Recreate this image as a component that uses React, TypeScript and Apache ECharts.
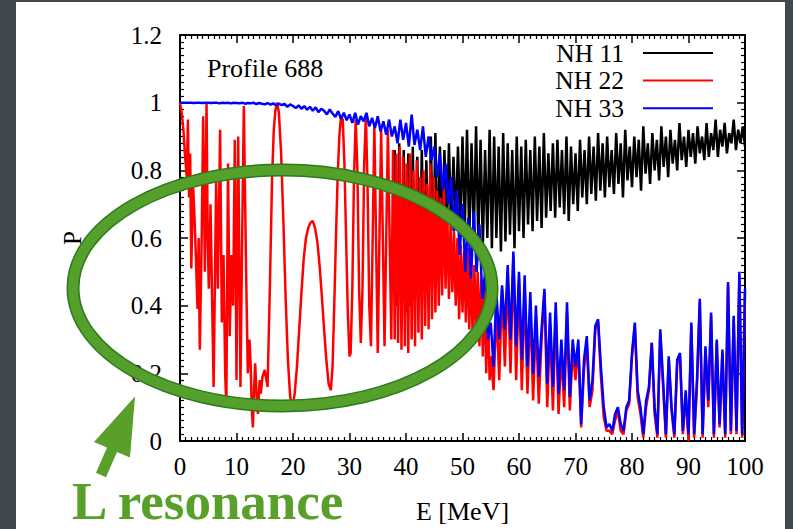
import React, { useEffect, useRef } from 'react';
import * as echarts from 'echarts';

const FONT = 'Liberation Serif, DejaVu Serif, serif';

const seriesNames = ['NH 11', 'NH 22', 'NH 33'];
const seriesColors = ['#000000', '#ff0000', '#0000ff'];
const chartTitle = 'Profile 688';
const xName = 'E [MeV]';
const yName = 'P';
const noteText = 'L resonance';

// NH 22 (red): irregular low-energy part, read point by point [E, P]
const nh22Low: [number, number][] = [
  [0, 1.0], [0.3, 0.97], [0.6, 0.92], [0.9, 0.84], [1.2, 0.78], [1.4, 0.95], [1.6, 0.72], [1.8, 0.85],
  [2.0, 0.51], [2.3, 0.76], [2.5, 0.69], [2.8, 0.55], [3.1, 0.39], [3.3, 0.6], [3.5, 0.27], [3.8, 0.55],
  [4.1, 0.96], [4.4, 0.5], [4.7, 1.0], [4.9, 0.6], [5.1, 0.45], [5.4, 0.7], [5.7, 0.4], [5.95, 0.16],
  [6.2, 0.5], [6.4, 0.77], [6.7, 0.45], [7.1, 0.92], [7.4, 0.35], [7.7, 0.55], [8.0, 0.2], [8.2, 0.1],
  [8.5, 0.82], [8.8, 0.31], [9.1, 0.55], [9.4, 0.4], [9.7, 0.89], [10.0, 0.18], [10.3, 0.9], [10.7, 0.16],
  [11.0, 0.6], [11.3, 0.99], [11.7, 0.5], [12.0, 0.2], [12.3, 0.3], [12.5, 0.23], [12.7, 0.1], [12.9, 0.04],
  [13.1, 0.15], [13.3, 0.23], [13.6, 0.12], [13.8, 0.08], [14.1, 0.18], [14.3, 0.14], [14.6, 0.19], [15.0, 0.21],
  [15.3, 0.18], [15.5, 0.16], [15.9, 0.45], [16.3, 0.78], [16.6, 0.92], [16.9, 0.98], [17.2, 1.0], [17.5, 0.97],
  [17.9, 0.85], [18.3, 0.65], [18.7, 0.42], [19.1, 0.24], [19.5, 0.13], [19.9, 0.1], [20.3, 0.14], [20.7, 0.22],
  [21.1, 0.33], [21.5, 0.44], [21.9, 0.54], [22.3, 0.6], [22.7, 0.63], [23.1, 0.645], [23.5, 0.65], [23.9, 0.63],
  [24.3, 0.59], [24.7, 0.52], [25.1, 0.43], [25.5, 0.33], [25.9, 0.24], [26.3, 0.17], [26.7, 0.15], [27.0, 0.22],
  [27.3, 0.4], [27.6, 0.6], [27.9, 0.78], [28.2, 0.9], [28.5, 0.96], [28.8, 0.95], [29.1, 0.82], [29.4, 0.6],
  [29.7, 0.38], [30.0, 0.25], [30.2, 0.26], [30.5, 0.45], [30.8, 0.78], [31.1, 0.95], [31.4, 0.8], [31.7, 0.45],
  [32.0, 0.29], [32.3, 0.45], [32.6, 0.82], [32.9, 0.96], [33.2, 0.75], [33.5, 0.4], [33.8, 0.28], [34.1, 0.6],
  [34.4, 0.93], [34.7, 0.6], [35.0, 0.26], [35.3, 0.6], [35.6, 0.92], [35.9, 0.6], [36.2, 0.28], [36.5, 0.6],
  [36.8, 0.92], [37.1, 0.6], [37.4, 0.3],
];

// NH 22 (red): fast oscillation, sampled every 0.3 MeV from 37.7 MeV
const nh22MidStart = 37.7;
const nh22MidStep = 0.3;
const nh22Mid = [
  0.86, 0.30, 0.85, 0.29, 0.87, 0.27, 0.84, 0.28, 0.82, 0.26,
  0.85, 0.30, 0.80, 0.28, 0.83, 0.32, 0.78, 0.30, 0.80, 0.34,
  0.76, 0.33, 0.82, 0.36, 0.78, 0.38, 0.74, 0.40, 0.72, 0.43,
  0.75, 0.45, 0.68, 0.42, 0.65, 0.44, 0.62, 0.40, 0.60, 0.36,
  0.58, 0.38, 0.56, 0.35, 0.57, 0.33, 0.54, 0.30, 0.52, 0.32,
  0.50, 0.28, 0.48, 0.25, 0.47, 0.20, 0.42, 0.18,
];

// High-energy part, sampled every 0.5 MeV from 55 MeV
const highStart = 55;
const highStep = 0.5;
const nh22High = [
  0.25, 0.15, 0.40, 0.18, 0.45, 0.22, 0.50, 0.20, 0.55, 0.18,
  0.48, 0.15, 0.45, 0.14, 0.40, 0.12, 0.36, 0.11, 0.30, 0.44,
  0.10, 0.34, 0.09, 0.38, 0.08, 0.26, 0.10, 0.38, 0.09, 0.27,
  0.18, 0.28, 0.04, 0.21, 0.29, 0.10, 0.15, 0.33, 0.35, 0.19,
  0.07, 0.03, 0.03, 0.02, 0.06, 0.09, 0.03, 0.02, 0.09, 0.11,
  0.25, 0.34, 0.13, 0.08, 0.01, 0.10, 0.15, 0.29, 0.08, 0.01,
  0.32, 0.16, 0.01, 0.24, 0.09, 0.01, 0.23, 0.25, 0.02, 0.13,
  0.00, 0.34, 0.01, 0.16, 0.41, 0.01, 0.27, 0.10, 0.37, 0.01,
  0.29, 0.04, 0.26, 0.01, 0.46, 0.02, 0.36, 0.02, 0.49, 0.01,
  0.44,
];
const nh33High = [
  0.35, 0.22, 0.44, 0.30, 0.46, 0.33, 0.52, 0.30, 0.56, 0.28,
  0.50, 0.24, 0.49, 0.22, 0.44, 0.20, 0.40, 0.19, 0.33, 0.45,
  0.17, 0.38, 0.16, 0.41, 0.14, 0.30, 0.15, 0.41, 0.13, 0.30,
  0.22, 0.30, 0.05, 0.24, 0.31, 0.12, 0.18, 0.34, 0.36, 0.22,
  0.10, 0.04, 0.05, 0.03, 0.08, 0.10, 0.05, 0.03, 0.10, 0.12,
  0.26, 0.35, 0.15, 0.10, 0.02, 0.12, 0.16, 0.29, 0.10, 0.02,
  0.33, 0.18, 0.02, 0.25, 0.10, 0.02, 0.24, 0.26, 0.03, 0.15,
  0.02, 0.35, 0.02, 0.18, 0.42, 0.02, 0.28, 0.12, 0.38, 0.02,
  0.30, 0.05, 0.27, 0.02, 0.47, 0.03, 0.37, 0.03, 0.50, 0.02,
  0.45,
];

// NH 33 (blue): low-energy part, sampled every 0.5 MeV from 0 MeV
const nh33LowStart = 0;
const nh33LowStep = 0.5;
const nh33Low = [
  1, 1, 1, 1, 1, 0.999, 1, 1, 0.999, 1,
  1, 0.999, 1, 1, 0.998, 1, 0.999, 1, 0.998, 1,
  0.999, 0.998, 1, 0.997, 0.999, 0.998, 1, 0.996, 0.999, 0.997,
  0.995, 0.999, 0.994, 0.998, 0.992, 0.997, 0.993, 0.996, 0.988, 0.995,
  0.99, 0.984, 0.992, 0.982, 0.99, 0.979, 0.988, 0.976, 0.986, 0.972,
  0.982, 0.976, 0.965, 0.98, 0.968, 0.958, 0.975, 0.952, 0.97, 0.948,
  0.965, 0.94, 0.97, 0.935, 0.96, 0.945, 0.97, 0.93, 0.955, 0.925,
  0.96, 0.915, 0.945, 0.905, 0.95, 0.9, 0.93, 0.88, 0.95, 0.89,
  0.94, 0.87, 0.965, 0.875, 0.92, 0.86, 0.93, 0.84, 0.9, 0.83,
  0.87, 0.78, 0.85, 0.74, 0.82, 0.7, 0.78, 0.62, 0.74, 0.55,
  0.7, 0.5, 0.66, 0.48, 0.68, 0.5, 0.64, 0.42, 0.5, 0.3,
];

// NH 11 (black): sampled every 0.4 MeV from 38 MeV (below that it lies under NH 22)
const nh11Start = 38;
const nh11Step = 0.4;
const nh11 = [
  0.86, 0.40, 0.88, 0.35, 0.86, 0.38, 0.85, 0.40, 0.87, 0.42,
  0.84, 0.45, 0.86, 0.48, 0.83, 0.50, 0.90, 0.52, 0.91, 0.55,
  0.87, 0.58, 0.86, 0.60, 0.88, 0.62, 0.84, 0.64, 0.87, 0.62,
  0.90, 0.63, 0.92, 0.60, 0.88, 0.61, 0.93, 0.59, 0.89, 0.58,
  0.86, 0.60, 0.92, 0.57, 0.90, 0.60, 0.87, 0.56, 0.91, 0.59,
  0.88, 0.61, 0.86, 0.57, 0.90, 0.62, 0.87, 0.60, 0.89, 0.64,
  0.86, 0.62, 0.90, 0.65, 0.87, 0.63, 0.91, 0.66, 0.85, 0.68,
  0.88, 0.66, 0.89, 0.69, 0.86, 0.67, 0.90, 0.65, 0.87, 0.70,
  0.85, 0.68, 0.89, 0.72, 0.86, 0.70, 0.90, 0.73, 0.87, 0.71,
  0.91, 0.74, 0.88, 0.72, 0.90, 0.75, 0.86, 0.73, 0.91, 0.76,
  0.88, 0.72, 0.92, 0.77, 0.87, 0.75, 0.90, 0.78, 0.89, 0.74,
  0.93, 0.79, 0.88, 0.76, 0.91, 0.80, 0.89, 0.77, 0.93, 0.81,
  0.90, 0.78, 0.92, 0.82, 0.89, 0.80, 0.94, 0.83, 0.90, 0.81,
  0.92, 0.84, 0.91, 0.82, 0.93, 0.85, 0.90, 0.83, 0.94, 0.84,
  0.91, 0.86, 0.95, 0.84, 0.92, 0.87, 0.94, 0.85, 0.91, 0.88,
  0.95, 0.86, 0.92, 0.88, 0.93, 0.87,
];

const onGrid = (start: number, step: number, vals: number[]): [number, number][] =>
  vals.map((v, i) => [Math.round((start + i * step) * 100) / 100, v]);

export default function App() {
  const ref = useRef<HTMLDivElement>(null);

  useEffect(() => {
    if (!ref.current) return;
    const chart = echarts.init(ref.current, undefined, { renderer: 'svg' });

    const dataNH11 = onGrid(nh11Start, nh11Step, nh11);
    const dataNH22 = [
      ...nh22Low,
      ...onGrid(nh22MidStart, nh22MidStep, nh22Mid),
      ...onGrid(highStart, highStep, nh22High),
    ];
    const dataNH33 = [
      ...onGrid(nh33LowStart, nh33LowStep, nh33Low),
      ...onGrid(highStart, highStep, nh33High),
    ];
    const allData = [dataNH11, dataNH22, dataNH33];

    const tickCommon = {
      axisLine: { show: true, onZero: false, lineStyle: { color: '#000', width: 2 } },
      axisTick: { show: true, inside: true, length: 8, lineStyle: { color: '#000', width: 1.5 } },
      minorTick: { show: true, splitNumber: 10, length: 4, lineStyle: { color: '#000', width: 1.2 } },
      splitLine: { show: false },
      minorSplitLine: { show: false },
    };
    const labelStyle = { fontFamily: FONT, fontSize: 25, color: '#000' };

    chart.setOption({
      animation: false,
      backgroundColor: 'transparent',
      title: {
        text: chartTitle,
        left: 207,
        top: 54,
        padding: 0,
        textStyle: { fontFamily: FONT, fontSize: 26, fontWeight: 'normal', color: '#000', lineHeight: 28 },
      },
      legend: {
        orient: 'vertical',
        right: 80,
        top: 40,
        padding: 0,
        align: 'right',
        icon: 'rect',
        itemWidth: 70,
        itemHeight: 2,
        itemGap: 1.6,
        data: seriesNames,
        textStyle: { fontFamily: FONT, fontSize: 25.5, color: '#000', lineHeight: 25, padding: [0, 14, 0, 0] },
      },
      grid: { left: 180, right: 48, top: 35, bottom: 79, containLabel: false },
      xAxis: [
        {
          type: 'value', min: 0, max: 100, interval: 10, position: 'bottom',
          name: xName, nameLocation: 'middle', nameGap: 58,
          nameTextStyle: { ...labelStyle, fontSize: 26, lineHeight: 24 },
          axisLabel: { ...labelStyle, margin: 16, lineHeight: 18 },
          ...tickCommon,
        },
        {
          type: 'value', min: 0, max: 100, interval: 10, position: 'top',
          axisLabel: { show: false },
          ...tickCommon,
        },
      ],
      yAxis: [
        {
          type: 'value', min: 0, max: 1.2, interval: 0.2, position: 'left',
          name: yName, nameLocation: 'middle', nameGap: 95,
          nameTextStyle: { ...labelStyle },
          axisLabel: { ...labelStyle, margin: 18 },
          ...tickCommon,
        },
        {
          type: 'value', min: 0, max: 1.2, interval: 0.2, position: 'right',
          axisLabel: { show: false },
          ...tickCommon,
        },
      ],
      series: seriesNames.map((name, i) => ({
        name,
        type: 'line',
        xAxisIndex: 0,
        yAxisIndex: 0,
        data: allData[i],
        showSymbol: false,
        symbol: 'none',
        color: seriesColors[i],
        lineStyle: { color: seriesColors[i], width: 2.5 },
        itemStyle: { color: seriesColors[i] },
        z: 2 + i,
      })),
      graphic: [
        {
          type: 'ellipse', z: 100,
          shape: { cx: 282.5, cy: 288, rx: 209.5, ry: 118 },
          style: { fill: 'none', stroke: '#2c7a1e', lineWidth: 13 },
        },
        {
          type: 'ellipse', z: 101,
          shape: { cx: 282.5, cy: 288, rx: 209.5, ry: 118 },
          style: { fill: 'none', stroke: '#55a02b', lineWidth: 10 },
        },
        {
          type: 'polygon', z: 100,
          shape: {
            points: [[135, 396.5], [130, 457.5], [117, 452], [106, 477.2], [96, 472.8], [107, 447.6], [94, 442]],
          },
          style: { fill: '#58a02a' },
        },
        {
          type: 'text', z: 100,
          style: {
            text: noteText, x: 72, y: 500.5, fill: '#58a02a',
            fontFamily: FONT, fontSize: 53, fontWeight: 'bold', lineHeight: 32,
            textAlign: 'left', verticalAlign: 'middle',
          },
        },
      ],
    });

    return () => chart.dispose();
  }, []);

  return (
    <div style={{ position: 'fixed', left: 0, top: 0, width: 793, height: 529, background: '#41484d', overflow: 'hidden' }}>
      <div style={{ position: 'absolute', left: 16, top: 2, width: 769, height: 527, background: '#ffffff' }} />
      <div ref={ref} style={{ position: 'absolute', left: 0, top: 0, width: 793, height: 529 }} />
    </div>
  );
}
